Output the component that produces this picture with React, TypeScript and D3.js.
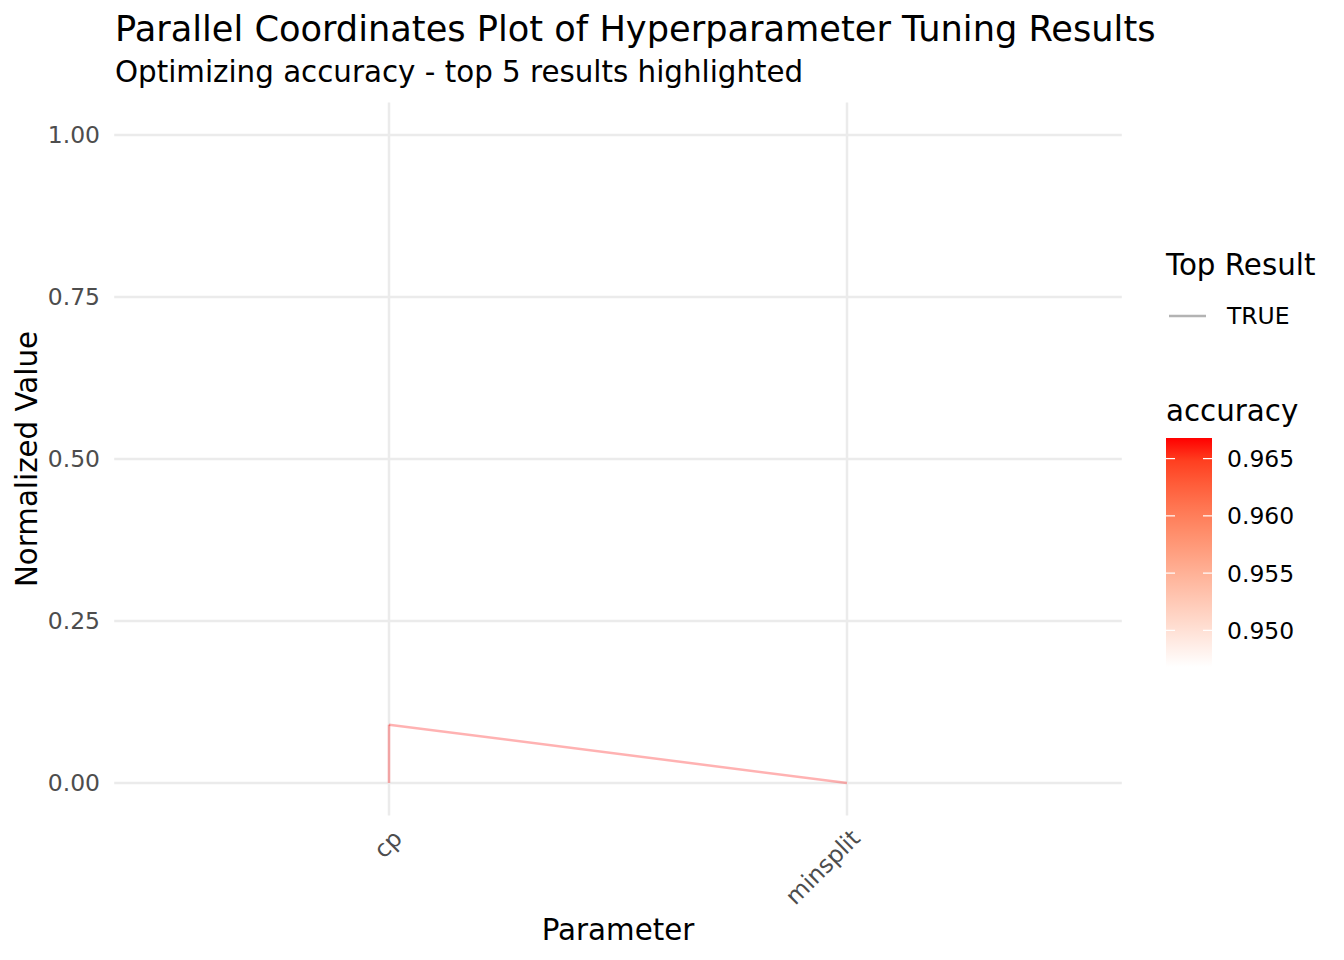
import React from 'react';
import * as d3 from 'd3';

// Top 5 tuning results, normalized parameter values
const params = ['cp', 'minsplit'];
const trialIds = ['t1', 't2', 't3', 't4', 't5'];
const cpNorm = [0, 0, 0, 0, 0.09];
const minsplitNorm = [0, 0, 0, 0, 0];
const accuracy = [0.9468, 0.955, 0.96, 0.9668, 0.9668];
const topResult = [true, true, true, true, true];

const yTicks = [0, 0.25, 0.5, 0.75, 1];
const accTicks = [0.95, 0.955, 0.96, 0.965];

const W = 1344;
const H = 960;
const FONT = '"DejaVu Sans", Verdana, sans-serif';
const BASE = 29.33; // 11pt at 192 dpi
const SMALL = BASE * 0.8;

export default function App() {
  const panel = { left: 114.2, right: 1121.8, top: 102.6, bottom: 815.4 };

  const x = d3.scalePoint<string>().domain(params).range([panel.left, panel.right]).padding(0.6);
  const y = d3.scaleLinear().domain([-0.05, 1.05]).range([panel.bottom, panel.top]);

  const accExtent = d3.extent(accuracy) as [number, number];
  const color = d3.scaleLinear<string>().domain(accExtent).range(['white', 'red']).interpolate(d3.interpolateLab);

  // long format, ordered by parameter (stable) like geom_line does
  const longData = params.flatMap((p) =>
    trialIds.map((id, i) => ({
      param: p,
      value: p === 'cp' ? cpNorm[i] : minsplitNorm[i],
      acc: accuracy[i],
      top: topResult[i],
    }))
  );

  const segments = d3.pairs(longData);

  // colourbar
  const bar = { x: 1166, w: 46, top: 438, bottom: 667 };
  const barScale = d3.scaleLinear().domain(accExtent).range([bar.bottom, bar.top]);
  const stops = d3.range(0, 1.0001, 0.1);

  const cx = (panel.left + panel.right) / 2;
  const cy = (panel.top + panel.bottom) / 2;

  return (
    <svg width={W} height={H} style={{ position: 'absolute', left: 0, top: 0, background: '#fff' }} fontFamily={FONT}>
      <rect width={W} height={H} fill="#fff" />
      <defs>
        <linearGradient id="accGrad" x1="0" y1="1" x2="0" y2="0">
          {stops.map((t) => (
            <stop key={t} offset={t} stopColor={color(accExtent[0] + t * (accExtent[1] - accExtent[0]))} />
          ))}
        </linearGradient>
      </defs>

      {/* grid */}
      {yTicks.map((t) => (
        <line key={'gy' + t} x1={panel.left} x2={panel.right} y1={y(t)} y2={y(t)} stroke="#ebebeb" strokeWidth={2.5} />
      ))}
      {params.map((p) => (
        <line key={'gx' + p} x1={x(p)} x2={x(p)} y1={panel.top} y2={panel.bottom} stroke="#ebebeb" strokeWidth={2.5} />
      ))}

      {/* lines */}
      {segments.map(([a, b], i) => (
        <line
          key={'s' + i}
          x1={x(a.param)}
          y1={y(a.value)}
          x2={x(b.param)}
          y2={y(b.value)}
          stroke={color(a.acc)}
          strokeOpacity={0.3}
          strokeWidth={2.5}
          strokeLinecap="butt"
        />
      ))}

      {/* y ticks */}
      {yTicks.map((t) => (
        <text key={'ty' + t} x={100} y={y(t)} dy="0.36em" textAnchor="end" fontSize={SMALL} fill="#4d4d4d">
          {d3.format('.2f')(t)}
        </text>
      ))}

      {/* x ticks */}
      {params.map((p) => (
        <text
          key={'tx' + p}
          transform={`translate(${x(p) + 2},${panel.bottom + 12}) rotate(-45)`}
          textAnchor="end"
          dy="0.75em"
          fontSize={SMALL}
          fill="#4d4d4d"
        >
          {p}
        </text>
      ))}

      {/* axis titles */}
      <text x={cx} y={940} textAnchor="middle" fontSize={BASE}>Parameter</text>
      <text transform={`translate(37,${cy}) rotate(-90)`} textAnchor="middle" fontSize={BASE}>Normalized Value</text>

      {/* titles */}
      <text x={115} y={41} fontSize={BASE * 1.2}>Parallel Coordinates Plot of Hyperparameter Tuning Results</text>
      <text x={115} y={82} fontSize={BASE}>Optimizing accuracy - top 5 results highlighted</text>

      {/* legend: Top Result */}
      <text x={1166} y={275} fontSize={BASE}>Top Result</text>
      <line x1={1169} x2={1206} y1={316} y2={316} stroke="#b3b3b3" strokeWidth={2.5} />
      <text x={1227} y={316} dy="0.36em" fontSize={SMALL}>TRUE</text>

      {/* legend: accuracy colourbar */}
      <text x={1166} y={421} fontSize={BASE}>accuracy</text>
      <rect x={bar.x} y={bar.top} width={bar.w} height={bar.bottom - bar.top} fill="url(#accGrad)" />
      {accTicks.map((t) => (
        <g key={'ca' + t}>
          <line x1={bar.x} x2={bar.x + 9} y1={barScale(t)} y2={barScale(t)} stroke="#fff" strokeWidth={1.2} />
          <line x1={bar.x + bar.w - 9} x2={bar.x + bar.w} y1={barScale(t)} y2={barScale(t)} stroke="#fff" strokeWidth={1.2} />
          <text x={1227} y={barScale(t)} dy="0.36em" fontSize={SMALL}>
            {d3.format('.3f')(t)}
          </text>
        </g>
      ))}
    </svg>
  );
}
